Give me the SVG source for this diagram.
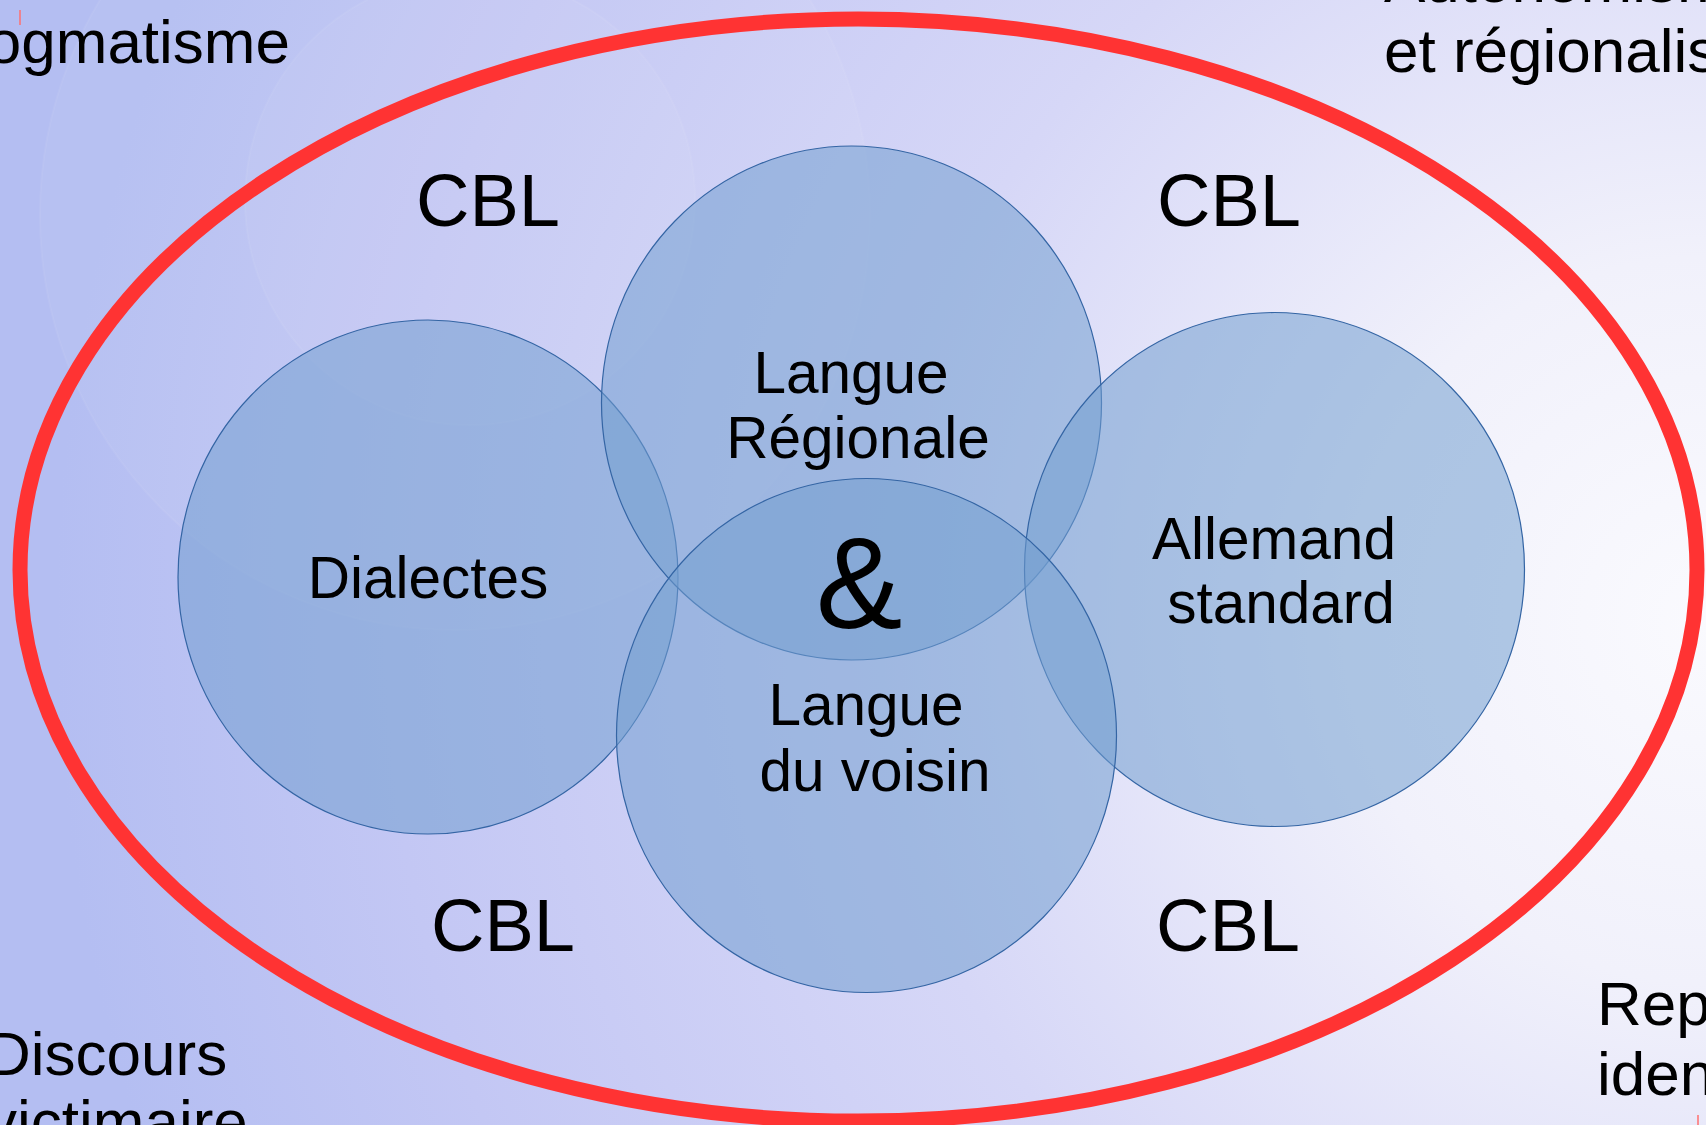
<svg xmlns="http://www.w3.org/2000/svg" width="1706" height="1125" viewBox="0 0 1706 1125">
  <defs>
    <radialGradient id="bg" gradientUnits="userSpaceOnUse" cx="1706" cy="620" r="1650">
      <stop offset="0" stop-color="#fafafe"/>
      <stop offset="0.22" stop-color="#f1f1fb"/>
      <stop offset="0.5" stop-color="#d6d7f7"/>
      <stop offset="0.8" stop-color="#c3c7f4"/>
      <stop offset="1" stop-color="#b4bef2"/>
    </radialGradient>
  </defs>
  <style>
    text { font-family: "Liberation Sans", Arial, sans-serif; fill: #000000; }
    .side { font-size: 62px; }
    .cbl { font-size: 74px; text-anchor: middle; }
    .lbl { font-size: 58.5px; text-anchor: middle; }
    .amp { font-size: 130px; text-anchor: middle; }
    .set { fill: #729fcf; fill-opacity: 0.55; stroke: #3465a4; stroke-width: 1.2; }
    .frame { fill: none; stroke: #ff3333; stroke-width: 15; }
    .deco { fill: #ffffff; fill-opacity: 0.05; stroke: #ffffff; stroke-opacity: 0.06; stroke-width: 2; }
    .tick { stroke: #ff6f6f; stroke-width: 1.5; }
  </style>

  <!-- slide background -->
  <rect x="0" y="0" width="1706" height="1125" fill="url(#bg)"/>
  <circle class="deco" cx="455" cy="215" r="415"/>
  <circle class="deco" cx="470" cy="200" r="225"/>

  <!-- outer boundary -->
  <ellipse id="boundary" class="frame" cx="858.5" cy="570" rx="838.5" ry="551"/>

  <!-- corner themes -->
  <g id="dogmatisme">
    <text class="side" x="290" y="63" text-anchor="end">Dogmatisme</text>
  </g>
  <g id="autonomisme">
    <text class="side" x="1384" y="2">Autonomisme</text>
    <text class="side" x="1384" y="72">et régionalisme</text>
  </g>
  <g id="discours">
    <text class="side" x="-14" y="1075">Discours</text>
    <text class="side" x="-14" y="1143">victimaire</text>
  </g>
  <g id="repli">
    <text class="side" x="1597" y="1025">Repli</text>
    <text class="side" x="1597" y="1095">identitaire</text>
  </g>

  <!-- overlapping language sets -->
  <g id="dialectes">
    <ellipse class="set" cx="428" cy="577" rx="250" ry="257"/>
    <text class="lbl" x="428" y="598">Dialectes</text>
  </g>
  <g id="langue-regionale">
    <ellipse class="set" cx="851.5" cy="403" rx="250" ry="257"/>
    <text class="lbl" x="851" y="393">Langue</text>
    <text class="lbl" x="858" y="458">Régionale</text>
  </g>
  <g id="allemand-standard">
    <ellipse class="set" cx="1274.5" cy="569.5" rx="250" ry="257"/>
    <text class="lbl" x="1274" y="559">Allemand</text>
    <text class="lbl" x="1281" y="623">standard</text>
  </g>
  <g id="langue-voisin">
    <ellipse class="set" cx="866.5" cy="735.5" rx="250" ry="257"/>
    <text class="lbl" x="866" y="725">Langue</text>
    <text class="lbl" x="875" y="791">du voisin</text>
  </g>
  <g id="et">
    <text class="amp" x="859" y="628">&amp;</text>
  </g>

  <!-- CBL labels in the four gaps -->
  <g id="cbl-labels">
    <text class="cbl" x="488" y="226">CBL</text>
    <text class="cbl" x="1229" y="226">CBL</text>
    <text class="cbl" x="503" y="951">CBL</text>
    <text class="cbl" x="1228" y="951">CBL</text>
  </g>

  <!-- stray cursor marks -->
  <line class="tick" x1="20" y1="10" x2="20" y2="25"/>
  <line class="tick" x1="1698" y1="1115" x2="1698" y2="1125"/>
</svg>
